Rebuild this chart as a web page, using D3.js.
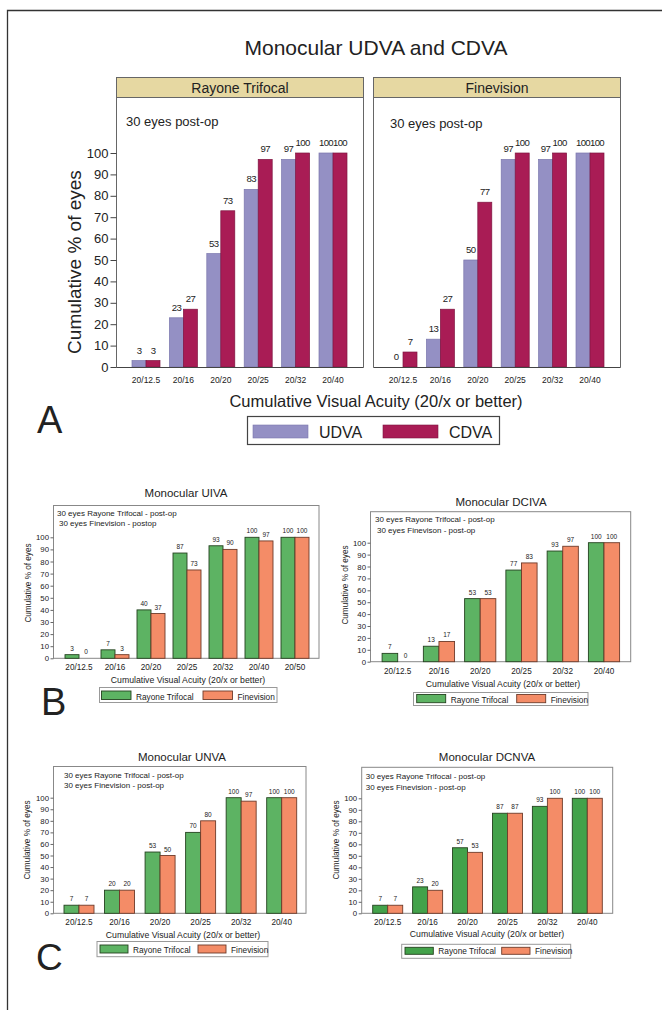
<!DOCTYPE html>
<html><head><meta charset="utf-8">
<script src="https://cdn.jsdelivr.net/npm/d3@7"></script>
<style>
html,body{margin:0;padding:0;background:#fff;}
svg text{font-family:"Liberation Sans",Arial,sans-serif;fill:#222;}
</style></head>
<body>
<svg id="c" width="662" height="1010"></svg>
<script>
// ---------------- DATA ----------------
const catsA = ["20/12.5","20/16","20/20","20/25","20/32","20/40"];
const seriesA = ["UDVA","CDVA"];
const rayoneUDVA = [3,23,53,83,97,100];
const rayoneCDVA = [3,27,73,97,100,100];
const finevisionUDVA = [0,13,50,97,97,100];
const finevisionCDVA = [7,27,77,100,100,100];

const seriesBC = ["Rayone Trifocal","Finevision"];
const catsUIVA = ["20/12.5","20/16","20/20","20/25","20/32","20/40","20/50"];
const uivaRayone = [3,7,40,87,93,100,100];
const uivaFinevision = [0,3,37,73,90,97,100];
const catsDCIVA = ["20/12.5","20/16","20/20","20/25","20/32","20/40"];
const dcivaRayone = [7,13,53,77,93,100];
const dcivaFinevision = [0,17,53,83,97,100];
const catsUNVA = ["20/12.5","20/16","20/20","20/25","20/32","20/40"];
const unvaRayone = [7,20,53,70,100,100];
const unvaFinevision = [7,20,50,80,97,100];
const catsDCNVA = ["20/12.5","20/16","20/20","20/25","20/32","20/40"];
const dcnvaRayone = [7,23,57,87,93,100];
const dcnvaFinevision = [7,20,53,87,100,100];
const yTicks = [0,10,20,30,40,50,60,70,80,90,100];

// ---------------- DRAW ----------------
const svg = d3.select("#c");
const F = "Liberation Sans, Arial, sans-serif";

// outer frame
svg.append("path").attr("d","M7.5,1010 L7.5,10.5 L662,10.5").attr("fill","none").attr("stroke","#333").attr("stroke-width",1.3);

// ===== Panel A =====
svg.append("text").attr("x",376).attr("y",55).attr("text-anchor","middle").attr("font-size",21).text("Monocular UDVA and CDVA");
const colA = {UDVA:"#9490c4", CDVA:"#a91c55"};
const strokeA = {UDVA:"#7b77ad", CDVA:"#7e1440"};
const yA = d3.scaleLinear().domain([0,100]).range([367,153]);

function facetA(o){
  const g = svg.append("g");
  g.append("rect").attr("x",o.left).attr("y",77.5).attr("width",o.right-o.left).attr("height",20)
    .attr("fill","#e6d8a2").attr("stroke","#666").attr("stroke-width",1);
  g.append("text").attr("x",(o.left+o.right)/2).attr("y",92.5).attr("text-anchor","middle").attr("font-size",14).text(o.name);
  g.append("path").attr("d",`M${o.left},97.5 L${o.left},367.5 M${o.right},97.5 L${o.right},367.5`).attr("stroke","#666").attr("fill","none");
  g.append("text").attr("x",o.noteX).attr("y",o.noteY).attr("font-size",13).text("30 eyes post-op");
  const step = (o.c1-o.c0)/(catsA.length-1);
  const pi = 1 - 2*o.barW/step;
  const x = d3.scaleBand().domain(catsA).range([o.c0-step/2, o.c1+step/2]).paddingInner(pi).paddingOuter(pi/2);
  const xs = d3.scaleBand().domain(seriesA).range([0,x.bandwidth()]);
  const rows = [];
  catsA.forEach((c,i)=>{ rows.push({c,s:"UDVA",v:o.u[i]}); rows.push({c,s:"CDVA",v:o.cd[i]}); });
  g.selectAll("rect.bar").data(rows.filter(d=>d.v>0)).join("rect").attr("class","bar")
    .attr("x",d=>x(d.c)+xs(d.s)).attr("width",xs.bandwidth())
    .attr("y",d=>yA(d.v)).attr("height",d=>yA(0)-yA(d.v))
    .attr("fill",d=>colA[d.s]).attr("stroke",d=>strokeA[d.s]).attr("stroke-width",0.7);
  g.selectAll("text.val").data(rows).join("text").attr("class","val")
    .attr("x",d=>x(d.c)+xs(d.s)+xs.bandwidth()/2).attr("y",d=>yA(d.v)-7)
    .attr("text-anchor","middle").attr("font-size",9.6).attr("letter-spacing",-0.6).text(d=>d.v);
  const ax = g.append("g").attr("transform","translate(0,367.5)")
    .call(d3.axisBottom(x).tickSize(0).tickPadding(9));
  ax.select(".domain").attr("d",`M${o.left},0 L${o.right},0`).attr("stroke","#444");
  ax.selectAll("text").attr("font-size",8.5).attr("font-family",F).attr("fill","#222");
  if(o.yaxis){
    const ay = g.append("g").attr("transform",`translate(${o.left},0)`)
      .call(d3.axisLeft(yA).tickValues(yTicks).tickSize(6).tickPadding(2));
    ay.select(".domain").remove();
    ay.selectAll("line").attr("stroke","#444");
    ay.selectAll("text").attr("font-size",13).attr("font-family",F).attr("fill","#222");
  }
}
facetA({name:"Rayone Trifocal",left:116.5,right:363.5,c0:146,c1:333,barW:14,u:rayoneUDVA,cd:rayoneCDVA,noteX:126,noteY:126,yaxis:true});
facetA({name:"Finevision",left:373.5,right:620.5,c0:403,c1:590,barW:14,u:finevisionUDVA,cd:finevisionCDVA,noteX:390,noteY:128,yaxis:false});

svg.append("text").attr("transform","translate(81,262) rotate(-90)").attr("text-anchor","middle").attr("font-size",19).text("Cumulative % of eyes");
svg.append("text").attr("x",376).attr("y",407).attr("text-anchor","middle").attr("font-size",16.5).text("Cumulative Visual Acuity (20/x or better)");
svg.append("text").attr("x",37).attr("y",433).attr("font-size",38).text("A");
const lgA = svg.append("g");
lgA.append("rect").attr("x",247.5).attr("y",416.5).attr("width",252).attr("height",28).attr("fill","#fff").attr("stroke","#444").attr("stroke-width",1.2);
seriesA.forEach((s,i)=>{
  const lx = [253,383][i];
  lgA.append("rect").attr("x",lx).attr("y",425).attr("width",55).attr("height",13).attr("fill",colA[s]).attr("stroke",strokeA[s]).attr("stroke-width",0.6);
  lgA.append("text").attr("x",lx+66).attr("y",438).attr("font-size",16).text(s);
});

// ===== Panels B / C =====
function small(o){
  const g = svg.append("g");
  const y = d3.scaleLinear().domain([0,100]).range([o.y0,o.y100]);
  g.append("text").attr("x",o.titleX).attr("y",o.titleY).attr("text-anchor","middle").attr("font-size",11.5).text(o.title);
  g.append("rect").attr("x",o.left).attr("y",o.top).attr("width",o.right-o.left).attr("height",o.y0-o.top)
    .attr("fill","none").attr("stroke","#888").attr("stroke-width",1);
  o.notes.forEach((t,i)=>g.append("text").attr("x",o.noteX[i]).attr("y",o.noteY[i]).attr("font-size",8).attr("fill","#333").text(t));
  const step = (o.c1-o.c0)/(o.cats.length-1);
  const pi = 1 - 2*o.barW/step;
  const x = d3.scaleBand().domain(o.cats).range([o.c0-step/2,o.c1+step/2]).paddingInner(pi).paddingOuter(pi/2);
  const xs = d3.scaleBand().domain(seriesBC).range([0,x.bandwidth()]);
  const rows=[];
  o.cats.forEach((c,i)=>{rows.push({c,s:seriesBC[0],v:o.a[i]});rows.push({c,s:seriesBC[1],v:o.b[i]});});
  const fill = {[seriesBC[0]]:o.green,[seriesBC[1]]:"#f48c67"};
  const strk = {[seriesBC[0]]:"#24421f",[seriesBC[1]]:"#6e3b2a"};
  g.selectAll("rect.bar").data(rows.filter(d=>d.v>0)).join("rect").attr("class","bar")
    .attr("x",d=>x(d.c)+xs(d.s)).attr("width",xs.bandwidth())
    .attr("y",d=>y(d.v)).attr("height",d=>y(0)-y(d.v))
    .attr("fill",d=>fill[d.s]).attr("stroke",d=>strk[d.s]).attr("stroke-width",0.9);
  g.selectAll("text.val").data(rows).join("text").attr("class","val")
    .attr("x",d=>x(d.c)+xs(d.s)+xs.bandwidth()/2).attr("y",d=>y(d.v)-4)
    .attr("text-anchor","middle").attr("font-size",6.5).attr("fill","#444").text(d=>d.v);
  const ax = g.append("g").attr("transform",`translate(0,${o.y0})`).call(d3.axisBottom(x).tickSize(0).tickPadding(6));
  ax.select(".domain").remove();
  ax.selectAll("text").attr("font-size",8.2).attr("font-family",F).attr("fill","#333");
  const ay = g.append("g").attr("transform",`translate(${o.left},0)`).call(d3.axisLeft(y).tickValues(yTicks).tickSize(3).tickPadding(1.5));
  ay.select(".domain").remove();
  ay.selectAll("line").attr("stroke","#666");
  ay.selectAll("text").attr("font-size",7.8).attr("font-family",F).attr("fill","#333");
  g.append("text").attr("transform",`translate(${o.ylabX},${o.ylabY}) rotate(-90)`).attr("text-anchor","middle").attr("font-size",8.2).attr("fill","#333").text("Cumulative % of eyes");
  g.append("text").attr("x",o.xtX).attr("y",o.xtY).attr("text-anchor","middle").attr("font-size",8.7).attr("fill","#222").text("Cumulative Visual Acuity (20/x or better)");
  const L=o.leg;
  g.append("rect").attr("x",L.x0).attr("y",L.y0).attr("width",L.x1-L.x0).attr("height",L.y1-L.y0).attr("fill","#fff").attr("stroke","#999");
  seriesBC.forEach((s,i)=>{
    g.append("rect").attr("x",L.sx[i]).attr("y",L.sy).attr("width",L.sw).attr("height",L.sh).attr("fill",fill[s]).attr("stroke",strk[s]).attr("stroke-width",0.9);
    g.append("text").attr("x",L.sx[i]+L.sw+5).attr("y",L.sy+L.sh).attr("font-size",8.3).attr("fill","#222").text(s);
  });
}

small({title:"Monocular UIVA",titleX:186,titleY:497,left:53.5,right:319,top:505.5,y0:658.3,y100:537.3,
  notes:["30 eyes Rayone Trifocal - post-op","30 eyes Finevision - postop"],noteX:[57,59],noteY:[516,526],
  cats:catsUIVA,a:uivaRayone,b:uivaFinevision,c0:79,c1:295,barW:14,green:"#5db363",
  ylabX:31,ylabY:583,xtX:188,xtY:683,
  leg:{x0:99.5,x1:277,y0:687.5,y1:702.5,sx:[101.5,203],sy:691,sw:29.5,sh:8.5}});
small({title:"Monocular DCIVA",titleX:501,titleY:505.5,left:370.5,right:630.7,top:511.7,y0:661.7,y100:542.7,
  notes:["30 eyes Rayone Trifocal - post-op","30 eyes Finevison - post-op"],noteX:[375,377],noteY:[522,533],
  cats:catsDCIVA,a:dcivaRayone,b:dcivaFinevision,c0:397.7,c1:604,barW:15.6,green:"#5db363",
  ylabX:348,ylabY:585,xtX:503,xtY:686.5,
  leg:{x0:413.5,x1:588,y0:692.5,y1:705.5,sx:[416.7,516.7],sy:694.5,sw:29,sh:8.2}});
small({title:"Monocular UNVA",titleX:182,titleY:761,left:53.5,right:306,top:766.5,y0:913.3,y100:797.7,
  notes:["30 eyes Rayone Trifocal - post-op","30 eyes Finevision - post-op"],noteX:[64,64],noteY:[778,788],
  cats:catsUNVA,a:unvaRayone,b:unvaFinevision,c0:79,c1:281.7,barW:15,green:"#5db363",
  ylabX:30,ylabY:840,xtX:183,xtY:937.5,
  leg:{x0:97,x1:268,y0:941.5,y1:956.7,sx:[100,198],sy:945,sw:28,sh:8}});
small({title:"Monocular DCNVA",titleX:487,titleY:760.5,left:361.7,right:612.7,top:767.3,y0:913.3,y100:798.3,
  notes:["30 eyes Rayone Trifocal - post-op","30 eyes Finevision - post-op"],noteX:[365.7,365.7],noteY:[779,789.5],
  cats:catsDCNVA,a:dcnvaRayone,b:dcnvaFinevision,c0:387.7,c1:587.3,barW:15,green:"#43a24a",
  ylabX:339,ylabY:840,xtX:487,xtY:937,
  leg:{x0:401.7,x1:570.7,y0:944.3,y1:958.3,sx:[405,501.7],sy:947.3,sw:28.3,sh:7}});

svg.append("text").attr("x",41).attr("y",715).attr("font-size",38).text("B");
svg.append("text").attr("x",36).attr("y",970).attr("font-size",37).text("C");
</script>
</body></html>
